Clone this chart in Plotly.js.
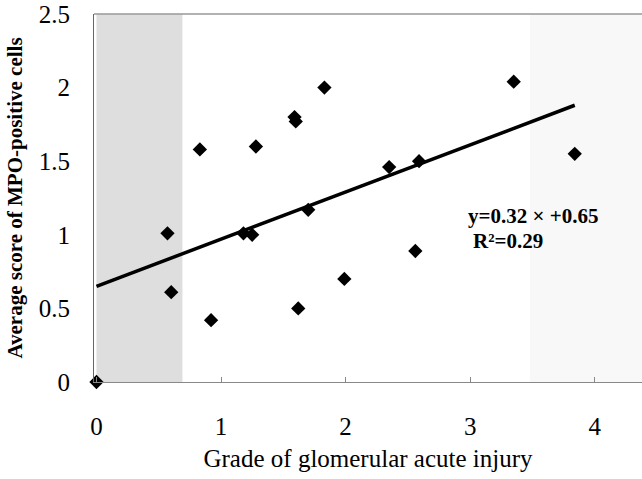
<!DOCTYPE html>
<html>
<head>
<meta charset="utf-8">
<script src="https://cdn.plot.ly/plotly-3.0.1.min.js"></script>
<style>html,body{margin:0;padding:0;background:#fff;}#chart{width:642px;height:479px;}</style>
</head>
<body>
<div id="chart"></div>
<script>
// Data
const gradeX = [0, 0.57, 0.60, 0.83, 0.92, 1.18, 1.25, 1.28, 1.59, 1.60, 1.62, 1.70, 1.83, 1.99, 2.35, 2.56, 2.59, 3.35, 3.84];
const mpoY   = [0, 1.01, 0.61, 1.58, 0.42, 1.01, 1.00, 1.60, 1.80, 1.77, 0.50, 1.17, 2.00, 0.70, 1.46, 0.89, 1.50, 2.04, 1.55];
const trendX = [0, 3.84];
const trendY = [0.65, 1.88];
const xTicks = [0, 1, 2, 3, 4];
const yTicks = [0, 0.5, 1, 1.5, 2, 2.5];
const leftBand = [0, 0.69];
const rightBand = [3.48, 4.5];
const eqLine1 = "y=0.32 × +0.65";
const eqLine2 = "R²=0.29";
const xTitle = "Grade of glomerular acute injury";
const yTitle = "Average score of MPO-positive cells";

const serif = "Liberation Serif";

const traces = [
  {
    x: trendX, y: trendY, mode: 'lines', type: 'scatter',
    line: {color: '#000', width: 3.5}, hoverinfo: 'skip', showlegend: false
  },
  {
    x: gradeX, y: mpoY, mode: 'markers', type: 'scatter',
    marker: {symbol: 'diamond', size: 11, color: '#000'},
    cliponaxis: false, showlegend: false
  }
];

const layout = {
  width: 642, height: 479,
  margin: {l: 94, r: 0, t: 14, b: 97},
  paper_bgcolor: '#fff', plot_bgcolor: '#fff',
  font: {family: serif, color: '#000'},
  xaxis: {
    range: [-0.02, 4.38],
    tickvals: xTicks, ticktext: xTicks.map(String),
    ticks: 'inside', ticklen: 5, tickcolor: '#888', tickwidth: 1,
    showgrid: false, zeroline: false,
    showline: true, linecolor: '#888', linewidth: 1,
    tickfont: {family: serif, size: 25, color: '#000'},
    ticklabelstandoff: 22,
    title: {text: xTitle, font: {family: serif, size: 25, color: '#000'}, standoff: 10}
  },
  yaxis: {
    range: [0, 2.5],
    tickvals: yTicks, ticktext: yTicks.map(String),
    ticks: '', showgrid: false, zeroline: false,
    showline: true, linecolor: '#666', linewidth: 1,
    tickfont: {family: serif, size: 25, color: '#000'},
    ticklabelstandoff: 18,
    title: {text: '<b>' + yTitle + '</b>', font: {family: serif, size: 21, color: '#000'}, standoff: 10}
  },
  shapes: [
    {type: 'rect', xref: 'x', yref: 'paper', x0: leftBand[0], x1: leftBand[1], y0: 0, y1: 1,
     fillcolor: '#dedede', line: {width: 0}, layer: 'below'},
    {type: 'rect', xref: 'x', yref: 'paper', x0: rightBand[0], x1: rightBand[1], y0: 0, y1: 1,
     fillcolor: '#f8f8f8', line: {width: 0}, layer: 'below'},
    {type: 'line', xref: 'paper', yref: 'paper', x0: 0, x1: 1, y0: 1, y1: 1,
     line: {color: '#999', width: 1.5}}
  ],
  annotations: [
    {x: 2.97, y: 1.128, xref: 'x', yref: 'y', xanchor: 'left', yanchor: 'middle',
     text: '<b>' + eqLine1 + '</b>', showarrow: false, font: {family: serif, size: 21, color: '#000'}},
    {x: 3.01, y: 0.955, xref: 'x', yref: 'y', xanchor: 'left', yanchor: 'middle',
     text: '<b>' + eqLine2 + '</b>', showarrow: false, font: {family: serif, size: 21, color: '#000'}}
  ]
};

Plotly.newPlot('chart', traces, layout, {displayModeBar: false, staticPlot: true});
</script>
</body>
</html>
